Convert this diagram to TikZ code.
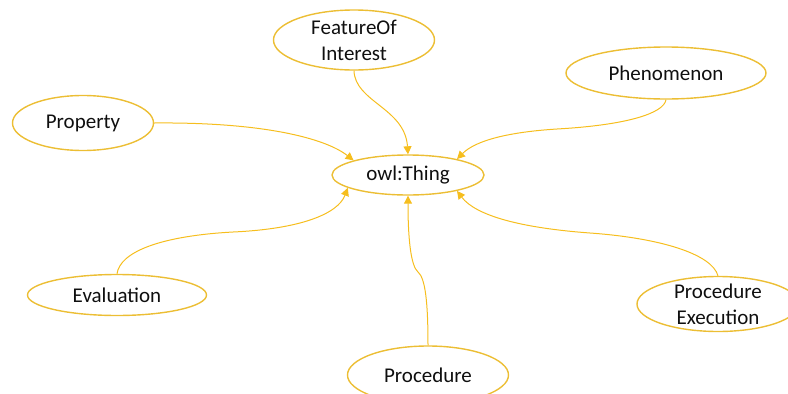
\documentclass[tikz,border=0pt]{standalone}
\usepackage{fontspec}
\setmainfont{Carlito}
\usetikzlibrary{shapes.geometric,arrows.meta}

\definecolor{gold}{RGB}{236,190,52}
\definecolor{goldline}{RGB}{246,190,30}
\definecolor{ink}{RGB}{15,15,15}

\tikzset{
  blob/.style={ellipse, draw=gold, line width=1.4pt, inner sep=0pt},
  lbl/.style={text=ink, align=center, inner sep=0pt,
              font=\fontsize{21}{26}\selectfont},
  link/.style={draw=goldline, line width=1pt,
               -{Triangle[length=8pt,width=8pt]}},
}

\begin{document}
\begin{tikzpicture}[x=1pt,y=-1pt]
  \path[use as bounding box] (0,0) rectangle (788,394);
  \clip (0,0) rectangle (788,394);

  % ellipses
  \node[blob, minimum width=152pt, minimum height=40pt] (owl)  at (408,175) {};
  \node[blob, minimum width=161pt, minimum height=60pt] (foi)  at (354,40)  {};
  \node[blob, minimum width=200pt, minimum height=52pt] (phen) at (666,73)  {};
  \node[blob, minimum width=141pt, minimum height=55pt] (prop) at (83,123)  {};
  \node[blob, minimum width=179pt, minimum height=41pt] (eval) at (117,295) {};
  \node[blob, minimum width=161pt, minimum height=58pt] (proc) at (428,375) {};
  \node[blob, minimum width=162pt, minimum height=55pt] (pexe) at (718,304) {};

  % labels
  \node[lbl] (owl-t)  at (owl)  {owl:Thing};
  \node[lbl] (foi-t)  at (foi)  {FeatureOf\\Interest};
  \node[lbl] (phen-t) at (phen) {Phenomenon};
  \node[lbl] (prop-t) at (prop) {Property};
  \node[lbl] (eval-t) at (eval) {Evaluation};
  \node[lbl] (proc-t) at (proc) {Procedure};
  \node[lbl] (pexe-t) at (pexe) {Procedure\\Execution};

  % connectors into owl:Thing
  \path[link] (foi.south) .. controls (355,102) and (405,108) .. (owl.north);
  \path[link] (prop.east) .. controls (262,122) and (325,138) .. (owl.165);
  \path[link] (phen.south) .. controls (664,113) and (628,125) .. (557,129)
                           .. controls (510,132) and (476,140) .. (owl.18);
  \path[link] (eval.north) .. controls (120,252) and (160,236) .. (233,232)
                           .. controls (300,229) and (338,214) .. (owl.192);
  \path[link] (proc.north) .. controls (428,300) and (425,278) .. (418,272)
                           .. controls (411,266) and (408,240) .. (owl.south);
  \path[link] (pexe.north) .. controls (712,254) and (660,238) .. (590,233)
                           .. controls (522,228) and (476,216) .. (owl.342);
\end{tikzpicture}
\end{document}
